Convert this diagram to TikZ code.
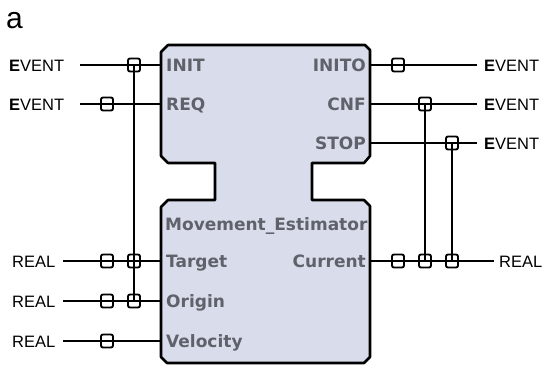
\documentclass[tikz,border=0pt]{standalone}
\usepackage{fontspec}
\setmainfont{Liberation Sans}
\newfontfamily\portfont{DejaVu Sans}
\definecolor{blockfill}{RGB}{217,220,234}
\definecolor{portgray}{RGB}{95,98,106}
\begin{document}
\begin{tikzpicture}[x=1pt,y=-1pt,
  wire/.style={line width=2pt},
  blockedge/.style={line width=2.6pt, line join=round, fill=blockfill},
  tap/.style={draw, line width=1.9pt, rounded corners=2pt,
              minimum width=12pt, minimum height=13pt, inner sep=0pt},
  dtype/.style={font=\fontsize{16.5}{18}\selectfont, inner sep=0pt},
  port/.style={font=\portfont\bfseries\fontsize{17}{19}\selectfont,
               text=portgray, inner sep=0pt},
]
\useasboundingbox (0,0) rectangle (544,367);

% panel tag
\node[font=\fontsize{30}{30}\selectfont, anchor=base west, inner sep=0pt] (tag) at (6,28) {a};

% function block outline (event head, neck, data body)
\draw[blockedge] (168,45) -- (365,45) -- (370,50) -- (370,156) -- (364,163)
  -- (312,163) -- (312,200) -- (364,200) -- (370,206) -- (370,357)
  -- (364,363) -- (167,363) -- (161,357) -- (161,207) -- (168,200)
  -- (215,200) -- (215,163) -- (168,163) -- (161,156) -- (161,52) -- cycle;

% port labels
\node[port, anchor=base west] (INIT) at (166,71) {INIT};
\node[port, anchor=base west] (REQ) at (166,110) {REQ};
\node[port, anchor=base east] (INITO) at (366,71) {INITO};
\node[port, anchor=base east] (CNF) at (366,110) {CNF};
\node[port, anchor=base east] (STOP) at (366,149) {STOP};
\node[port, anchor=base west] (name) at (165,230) {Movement\_Estimator};
\node[port, anchor=base west] (Target) at (166,267) {Target};
\node[port, anchor=base west] (Origin) at (166,307) {Origin};
\node[port, anchor=base west] (Velocity) at (166,347) {Velocity};
\node[port, anchor=base east] (Current) at (366,267) {Current};

% type labels
\node[dtype, anchor=base west] (evINIT) at (9,71) {\textbf{E}VENT};
\node[dtype, anchor=base west] (evREQ) at (9,110) {\textbf{E}VENT};
\node[dtype, anchor=base west] (evINITO) at (484,71) {\textbf{E}VENT};
\node[dtype, anchor=base west] (evCNF) at (484,110) {\textbf{E}VENT};
\node[dtype, anchor=base west] (evSTOP) at (484,149) {\textbf{E}VENT};
\node[dtype, anchor=base west] (rlTarget) at (12,267) {REAL};
\node[dtype, anchor=base west] (rlOrigin) at (12,307) {REAL};
\node[dtype, anchor=base west] (rlVelocity) at (12,347) {REAL};
\node[dtype, anchor=base west] (rlCurrent) at (499,267) {REAL};

% wire ends on the block edge and at the free side
\coordinate (eINIT) at (161,65);    \coordinate (wINIT) at (80,65);
\coordinate (eREQ) at (161,104);    \coordinate (wREQ) at (80,104);
\coordinate (eINITO) at (370,65);   \coordinate (wINITO) at (477,65);
\coordinate (eCNF) at (370,104);    \coordinate (wCNF) at (477,104);
\coordinate (eSTOP) at (370,143);   \coordinate (wSTOP) at (477,143);
\coordinate (eTarget) at (161,261); \coordinate (wTarget) at (63,261);
\coordinate (eOrigin) at (161,301); \coordinate (wOrigin) at (63,301);
\coordinate (eVelocity) at (161,341); \coordinate (wVelocity) at (63,341);
\coordinate (eCurrent) at (370,261); \coordinate (wCurrent) at (494,261);

\draw[wire] (wINIT) -- (eINIT);
\draw[wire] (wREQ) -- (eREQ);
\draw[wire] (eINITO) -- (wINITO);
\draw[wire] (eCNF) -- (wCNF);
\draw[wire] (eSTOP) -- (wSTOP);
\draw[wire] (wTarget) -- (eTarget);
\draw[wire] (wOrigin) -- (eOrigin);
\draw[wire] (wVelocity) -- (eVelocity);
\draw[wire] (eCurrent) -- (wCurrent);

% event/data association taps
\node[tap] (aINIT) at (134,65) {};
\node[tap] (aREQ) at (107,104) {};
\node[tap] (aTarget) at (107,261) {};
\node[tap] (bTarget) at (134,261) {};
\node[tap] (aOrigin) at (107,301) {};
\node[tap] (bOrigin) at (134,301) {};
\node[tap] (aVelocity) at (107,341) {};
\node[tap] (aINITO) at (398,65) {};
\node[tap] (aCNF) at (425,104) {};
\node[tap] (aSTOP) at (452,143) {};
\node[tap] (aCurrent) at (398,261) {};
\node[tap] (bCurrent) at (425,261) {};
\node[tap] (cCurrent) at (452,261) {};

% WITH links
\draw[wire] (aINIT.center) -- (bOrigin.center);
\draw[wire] (aCNF.center) -- (bCurrent.center);
\draw[wire] (aSTOP.center) -- (cCurrent.center);
\end{tikzpicture}
\end{document}
